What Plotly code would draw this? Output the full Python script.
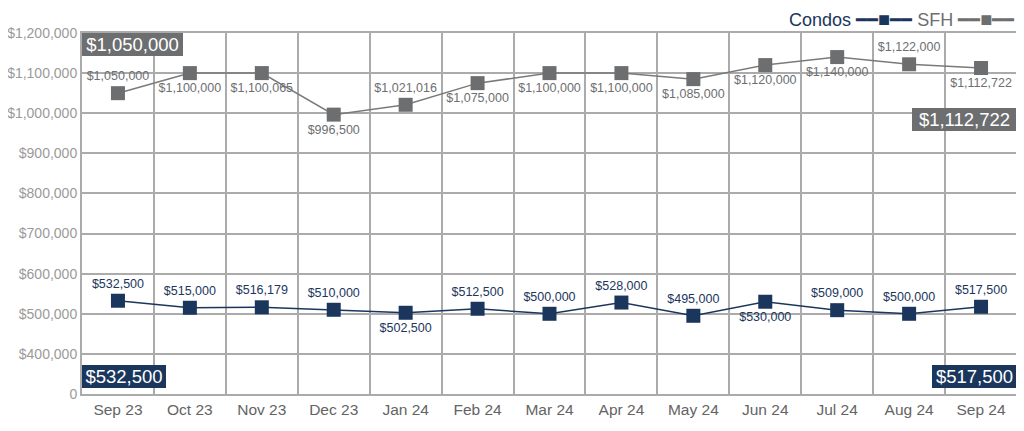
import plotly.graph_objects as go

months = ["Sep 23", "Oct 23", "Nov 23", "Dec 23", "Jan 24", "Feb 24", "Mar 24",
          "Apr 24", "May 24", "Jun 24", "Jul 24", "Aug 24", "Sep 24"]
sfh = [1050000, 1100000, 1100065, 996500, 1021016, 1075000, 1100000,
       1100000, 1085000, 1120000, 1140000, 1122000, 1112722]
condos = [532500, 515000, 516179, 510000, 502500, 512500, 500000,
          528000, 495000, 530000, 509000, 500000, 517500]
sfh_label_pos = ["top center", "bottom center", "bottom center", "bottom center",
                 "top center", "bottom center", "bottom center", "bottom center",
                 "bottom center", "bottom center", "bottom center", "top center",
                 "bottom center"]
condo_label_pos = ["top center", "top center", "top center", "top center",
                   "bottom center", "top center", "top center", "top center",
                   "top center", "bottom center", "top center", "top center",
                   "top center"]
y_ticks = [300000, 400000, 500000, 600000, 700000, 800000, 900000,
           1000000, 1100000, 1200000]
y_tick_text = ["0", "$400,000", "$500,000", "$600,000", "$700,000", "$800,000",
               "$900,000", "$1,000,000", "$1,100,000", "$1,200,000"]

NAVY = "#1b365d"
GRAY = "#6d6e70"
LINEGRAY = "#7a7a7a"
GRID = "#ababab"
FONT = "Liberation Sans, Arial, sans-serif"

def money(v):
    return "${:,}".format(v)

fig = go.Figure()
fig.add_trace(go.Scatter(
    x=months, y=sfh, mode="lines+markers+text", name="SFH",
    line=dict(color=LINEGRAY, width=1.5),
    marker=dict(symbol="square", size=14, color=GRAY),
    text=[money(v) for v in sfh], textposition=sfh_label_pos,
    textfont=dict(size=12.5, color=GRAY, family=FONT),
    showlegend=False, cliponaxis=False,
))
fig.add_trace(go.Scatter(
    x=months, y=condos, mode="lines+markers+text", name="Condos",
    line=dict(color=NAVY, width=1.5),
    marker=dict(symbol="square", size=14, color=NAVY),
    text=[money(v) for v in condos], textposition=condo_label_pos,
    textfont=dict(size=12.5, color=NAVY, family=FONT),
    showlegend=False, cliponaxis=False,
))

def box(text, color, x, y, xanchor, yanchor, w):
    return dict(text=text, xref="paper", yref="paper", x=x, y=y,
                xanchor=xanchor, yanchor=yanchor, showarrow=False,
                bgcolor=color, borderpad=0, borderwidth=0, width=w, height=23,
                align="center", valign="middle",
                font=dict(size=18.5, color="white", family=FONT))

sym = "\u2501\u2501<span style='font-size:20px'>\u25a0</span>\u2501\u2501"
annotations = [
    box(money(sfh[0]), GRAY, 0, 1, "left", "top", 101),
    box(money(sfh[-1]), GRAY, 1, 0.792, "right", "top", 105),
    box(money(condos[0]), NAVY, 0, 0.017, "left", "bottom", 84),
    box(money(condos[-1]), NAVY, 1, 0.017, "right", "bottom", 85),
    dict(text=("<span style='color:%s'>Condos %s</span>"
               " <span style='color:%s'>SFH %s</span>") % (NAVY, sym, GRAY, sym),
         xref="paper", yref="paper", x=1, y=1.0, xanchor="right", yanchor="bottom",
         yshift=1, showarrow=False, font=dict(size=18, family=FONT)),
]

fig.update_layout(
    width=1024, height=431,
    margin=dict(l=74, r=15, t=25, b=45),
    plot_bgcolor="white", paper_bgcolor="white",
    font=dict(family=FONT),
    annotations=annotations,
    xaxis=dict(type="category", tickson="boundaries", showgrid=True,
               range=[-0.5, len(months) - 0.5],
               gridcolor=GRID, gridwidth=2, ticks="", showline=True,
               linecolor=GRID, linewidth=2, mirror=True, automargin=False,
               tickfont=dict(size=15.5, color="#646464", family=FONT)),
    yaxis=dict(range=[300000, 1200000], tickvals=y_ticks, ticktext=y_tick_text,
               showgrid=True, gridcolor=GRID, gridwidth=2, zeroline=False,
               showline=True, linecolor=GRID, linewidth=2, mirror=True,
               ticks="", automargin=False,
               tickfont=dict(size=14, color="#9a9a9a", family=FONT)),
)

fig.write_html("out.html")
